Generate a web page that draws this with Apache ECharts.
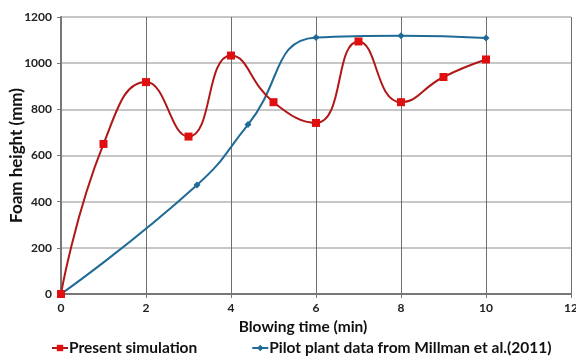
<!DOCTYPE html>
<html>
<head>
<meta charset="utf-8">
<script src="https://cdn.jsdelivr.net/npm/echarts@6/dist/echarts.min.js"></script>
<style>
  html, body { margin: 0; padding: 0; background: #fff; }
  #chart { width: 576px; height: 361px; }
</style>
</head>
<body>
<div id="chart"></div>
<script>
// Blowing time (min) and foam height (mm)
const simTime = [0, 1, 2, 3, 4, 5, 6, 7, 8, 9, 10];
const simHeight = [0, 650, 918, 682, 1033, 831, 741, 1094, 831, 940, 1016];
const pilotTime = [0, 3.2, 4.4, 6, 8, 10];
const pilotHeight = [0, 472, 734, 1111, 1119, 1109];
const seriesNames = ['Present simulation', 'Pilot plant data from Millman et al.(2011)'];

const pairs = (xs, ys) => xs.map((x, i) => [x, ys[i]]);
const FONT = 'Lato';

const chart = echarts.init(document.getElementById('chart'), null, { renderer: 'canvas' });
chart.setOption({
  animation: false,
  backgroundColor: '#ffffff',
  grid: { left: 61, right: 5, top: 17, bottom: 67, containLabel: false, outerBoundsMode: 'none' },
  xAxis: {
    type: 'value', min: 0, max: 12, interval: 2,
    name: 'Blowing time (min)', nameLocation: 'middle', nameGap: 25, nameMoveOverlap: false,
    nameTextStyle: { fontFamily: FONT, fontWeight: 'bold', fontSize: 15.5, color: '#111',
                     padding: [0, 26, 0, 0] },
    axisLine: { show: true, lineStyle: { color: '#777', width: 2 } },
    axisTick: { show: true, length: 4, lineStyle: { color: '#777' } },
    axisLabel: { fontFamily: FONT, fontWeight: 'bold', fontSize: 12, color: '#222', margin: 8 },
    splitLine: { show: true, lineStyle: { color: '#6e6e6e', width: 1 } }
  },
  yAxis: {
    type: 'value', min: 0, max: 1200, interval: 200,
    name: 'Foam height (mm)', nameLocation: 'middle', nameGap: 36, nameMoveOverlap: false,
    nameTextStyle: { fontFamily: FONT, fontWeight: 'bold', fontSize: 17, color: '#111' },
    axisLine: { show: true, lineStyle: { color: '#777', width: 2 } },
    axisTick: { show: true, length: 4, lineStyle: { color: '#777' } },
    axisLabel: { fontFamily: FONT, fontWeight: 'bold', fontSize: 12, color: '#222', margin: 9,
                 formatter: v => String(v) },
    splitLine: { show: true, lineStyle: { color: '#b4b4b4', width: 1.5 } }
  },
  legend: {
    left: 46, bottom: 0, itemGap: 54, itemWidth: 16, itemHeight: 8,
    textStyle: { fontFamily: FONT, fontWeight: 'bold', fontSize: 15.5, color: '#111', padding: [0, 0, 0, -4] },
    data: seriesNames
  },
  series: [
    {
      name: seriesNames[0], type: 'line', smooth: 0.5,
      data: pairs(simTime, simHeight),
      symbol: 'rect', symbolSize: 8,
      lineStyle: { color: '#b01818', width: 2 },
      itemStyle: { color: '#e01010' },
      z: 3
    },
    {
      name: seriesNames[1], type: 'line', smooth: 0.5,
      data: pairs(pilotTime, pilotHeight),
      symbol: 'diamond', symbolSize: 7,
      lineStyle: { color: '#1f6a96', width: 2 },
      itemStyle: { color: '#1f6a96' },
      z: 2
    }
  ]
});
</script>
</body>
</html>
